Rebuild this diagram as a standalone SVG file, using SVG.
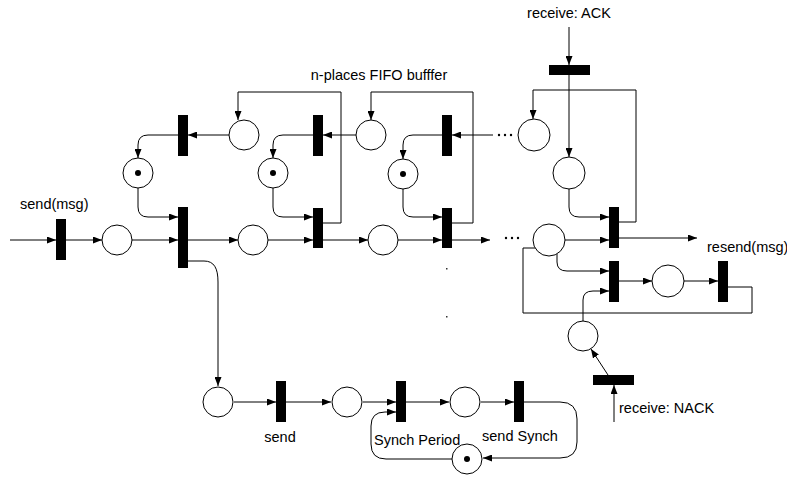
<svg xmlns="http://www.w3.org/2000/svg" width="787" height="478" viewBox="0 0 787 478">
<style>
.p{fill:#fff;stroke:#000;stroke-width:1}
.t{fill:#000}
.tok{fill:#000}
.d{fill:#000}
.c{fill:none;stroke:#000;stroke-width:1}
.a{marker-end:url(#ah)}
text{font-family:"Liberation Sans",Arial,sans-serif;font-size:14.5px;fill:#000}
</style>
<defs>
<marker id="ah" markerWidth="9" markerHeight="7" refX="9" refY="3.5" orient="auto" markerUnits="userSpaceOnUse">
<path d="M0,0 L9,3.5 L0,7 z" fill="#000"/>
</marker>
</defs>
<rect width="787" height="478" fill="#fff"/>
<g id="connectors">
<path class="c a" d="M10,240 H56"/>
<path class="c a" d="M66,240 H102"/>
<path class="c a" d="M132,240 H178"/>
<path class="c a" d="M188,240 H238"/>
<path class="c a" d="M268,240 H313"/>
<path class="c a" d="M323,240 H368"/>
<path class="c a" d="M398,240 H442"/>
<path class="c a" d="M452,240 H490"/>
<path class="c a" d="M564,240 H609"/>
<path class="c a" d="M618,238 H697"/>
<path class="c a" d="M229,135 H188"/>
<path class="c a" d="M178,135 H148 Q138,135 138,145 V158"/>
<path class="c a" d="M138,188 V207 Q138,217 148,217 H178"/>
<path class="c a" d="M323,223 H341 V92 H238 V120"/>
<path class="c a" d="M356,135 H323"/>
<path class="c a" d="M313,135 H283 Q273,135 273,145 V158"/>
<path class="c a" d="M273,188 V207 Q273,217 283,217 H313"/>
<path class="c a" d="M452,223 H473 V92 H371 V120"/>
<path class="c a" d="M493,135 H452"/>
<path class="c a" d="M442,135 H413 Q403,135 403,145 V159"/>
<path class="c a" d="M403,189 V207 Q403,217 413,217 H442"/>
<path class="c a" d="M569,27 V65"/>
<path class="c a" d="M569,75 V157"/>
<path class="c a" d="M618,222 H636 V90 H533 V119"/>
<path class="c a" d="M569,188 V207 Q569,217 579,217 H609"/>
<path class="c a" d="M557,254 V262 Q557,271 567,271 H609"/>
<path class="c a" d="M618,281 H652"/>
<path class="c a" d="M684,281 H718"/>
<path class="c" d="M728,287 H752 V313 H523 V248 H536"/>
<path class="c a" d="M583,321 V300 Q583,291 593,291 H609"/>
<path class="c a" d="M608,375 L591,349"/>
<path class="c a" d="M614,422 V385"/>
<path class="c a" d="M188,261 H204 C214,261 218,268 218,282 V386"/>
<path class="c a" d="M234,402 H276"/>
<path class="c a" d="M286,402 H331"/>
<path class="c a" d="M363,402 H396"/>
<path class="c a" d="M406,402 H449"/>
<path class="c a" d="M481,402 H514"/>
<path class="c a" d="M524,402 H560 Q577,402 577,419 V442 Q577,458 560,458 H483"/>
<path class="c a" d="M452,459 H386 Q371,459 371,444 V426 Q371,412 385,412 H396"/>
</g>
<g id="t_sendmsg"><rect class="t" x="56" y="219" width="10" height="41"/></g>
<g id="p1"><circle class="p" cx="117" cy="240" r="15"/></g>
<g id="t_big"><rect class="t" x="178" y="207" width="10" height="61"/></g>
<g id="p2"><circle class="p" cx="253" cy="240" r="15"/></g>
<g id="t_low2"><rect class="t" x="313" y="208" width="10" height="40"/></g>
<g id="p3"><circle class="p" cx="383" cy="240" r="15"/></g>
<g id="t_low3"><rect class="t" x="442" y="208" width="10" height="40"/></g>
<g id="p5"><circle class="p" cx="549" cy="240" r="16"/></g>
<g id="t4"><rect class="t" x="609" y="207" width="10" height="41"/></g>
<g id="t_up1"><rect class="t" x="178" y="115" width="10" height="41"/></g>
<g id="pt1"><circle class="p" cx="244" cy="135" r="15"/></g>
<g id="tok1"><circle class="p" cx="138" cy="173" r="15"/><circle class="tok" cx="138" cy="173" r="3"/></g>
<g id="t_up2"><rect class="t" x="313" y="115" width="10" height="41"/></g>
<g id="pt2"><circle class="p" cx="371" cy="135" r="15"/></g>
<g id="tok2"><circle class="p" cx="273" cy="173" r="15"/><circle class="tok" cx="273" cy="173" r="3"/></g>
<g id="t_up3"><rect class="t" x="442" y="115" width="10" height="41"/></g>
<g id="pt3"><circle class="p" cx="534" cy="135" r="16"/></g>
<g id="tok3"><circle class="p" cx="403" cy="174" r="15"/><circle class="tok" cx="403" cy="174" r="3"/></g>
<g id="t_ack"><rect class="t" x="549" y="65" width="41" height="10"/></g>
<g id="p_ack"><circle class="p" cx="569" cy="173" r="16"/></g>
<g id="t5"><rect class="t" x="609" y="261" width="10" height="41"/></g>
<g id="p6"><circle class="p" cx="668" cy="281" r="16"/></g>
<g id="t6"><rect class="t" x="718" y="261" width="10" height="41"/></g>
<g id="p7"><circle class="p" cx="583" cy="336" r="15"/></g>
<g id="t_nack"><rect class="t" x="593" y="375" width="41" height="10"/></g>
<g id="pA"><circle class="p" cx="218" cy="402" r="15"/></g>
<g id="t_send"><rect class="t" x="276" y="381" width="10" height="41"/></g>
<g id="pB"><circle class="p" cx="347" cy="402" r="15"/></g>
<g id="t_sync"><rect class="t" x="396" y="381" width="10" height="41"/></g>
<g id="pC"><circle class="p" cx="465" cy="402" r="15"/></g>
<g id="t_sendsync"><rect class="t" x="514" y="381" width="10" height="41"/></g>
<g id="pD"><circle class="p" cx="467" cy="459" r="15"/><circle class="tok" cx="467" cy="459" r="3"/></g>
<g id="labels">
<text x="20" y="209">send(msg)</text>
<text x="379" y="80" text-anchor="middle">n-places FIFO bufffer</text>
<text x="569" y="18" text-anchor="middle">receive: ACK</text>
<text x="707" y="252">resend(msg)</text>
<text x="619" y="413">receive: NACK</text>
<text x="280" y="442" text-anchor="middle">send</text>
<text x="374" y="445">Synch Period</text>
<text x="482" y="441">send Synch</text>
</g>
<g id="ellipses">
<circle class="d" cx="499" cy="135" r="1.2"/><circle class="d" cx="505" cy="135" r="1.2"/><circle class="d" cx="511" cy="135" r="1.2"/>
<circle class="d" cx="506" cy="238" r="1.2"/><circle class="d" cx="512" cy="238" r="1.2"/><circle class="d" cx="518" cy="238" r="1.2"/>
<rect x="446" y="268" width="1.5" height="1.5" fill="#333"/>
<rect x="446" y="316" width="1.5" height="1.5" fill="#333"/>
</g>
</svg>
